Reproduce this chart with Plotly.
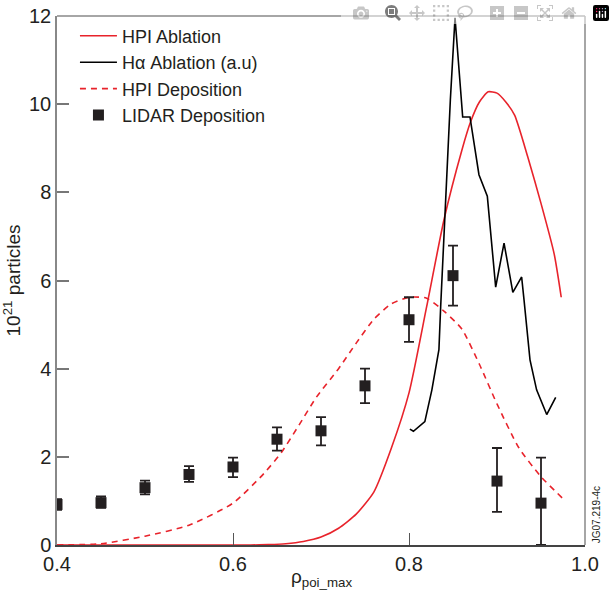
import plotly.graph_objects as go

# HPI Ablation (red solid)
abl_x = [0.4, 0.45, 0.5, 0.55, 0.6, 0.62, 0.64, 0.66, 0.68, 0.70, 0.72, 0.74, 0.76, 0.78, 0.80,
         0.82, 0.84, 0.86, 0.87, 0.88, 0.89, 0.90, 0.91, 0.92, 0.935, 0.95, 0.965, 0.973]
abl_y = [0, 0, 0, 0, 0, 0, 0.01, 0.03, 0.08, 0.18, 0.38, 0.7, 1.2, 2.2, 3.45,
         5.4, 7.4, 8.95, 9.6, 10.05, 10.28, 10.25, 10.05, 9.75, 8.8, 7.75, 6.6, 5.62]

# H-alpha Ablation (a.u) (black)
ha_x = [0.801, 0.805, 0.818, 0.826, 0.834, 0.836, 0.847, 0.8523, 0.861, 0.8693, 0.8795, 0.889,
        0.8985, 0.908, 0.918, 0.928, 0.9307, 0.9375, 0.945, 0.9565, 0.9667]
ha_y = [2.63, 2.58, 2.80, 3.52, 4.43, 5.41, 10.1, 11.96, 9.71, 9.71, 8.40, 7.91,
        5.85, 6.85, 5.73, 6.08, 5.56, 4.20, 3.52, 2.96, 3.35]

# HPI Deposition (red dashed)
dep_x = [0.4, 0.45, 0.5, 0.55, 0.6, 0.635, 0.655, 0.675, 0.695, 0.72, 0.74, 0.76, 0.78, 0.8,
         0.82, 0.84, 0.86, 0.88, 0.9, 0.925, 0.95, 0.975]
dep_y = [0, 0.03, 0.2, 0.45, 0.95, 1.62, 2.1, 2.72, 3.36, 4.0, 4.58, 5.12, 5.47, 5.62,
         5.6, 5.3, 4.9, 4.1, 3.2, 2.2, 1.55, 1.05]

# LIDAR Deposition (squares with error bars)
lid_x = [0.4, 0.45, 0.5, 0.55, 0.6, 0.65, 0.7, 0.75, 0.8, 0.85, 0.9, 0.95]
lid_y = [0.92, 0.96, 1.30, 1.60, 1.77, 2.40, 2.59, 3.61, 5.11, 6.11, 1.45, 0.95]
lid_err_plus = [0.12, 0.14, 0.16, 0.19, 0.21, 0.27, 0.31, 0.39, 0.51, 0.68, 0.75, 1.03]
lid_err_minus = [0.12, 0.12, 0.15, 0.17, 0.23, 0.26, 0.33, 0.39, 0.50, 0.68, 0.70, 0.95]

RED = "#e8232b"
FONT = "Liberation Sans, Arial, sans-serif"

fig = go.Figure()
fig.add_trace(go.Scatter(x=abl_x, y=abl_y, mode="lines", name="HPI Ablation",
                         line=dict(color=RED, width=1.6, shape="spline", smoothing=0.6)))
fig.add_trace(go.Scatter(x=ha_x, y=ha_y, mode="lines", name="H\u03b1 Ablation (a.u)",
                         line=dict(color="black", width=1.6)))
fig.add_trace(go.Scatter(x=dep_x, y=dep_y, mode="lines", name="HPI Deposition",
                         line=dict(color=RED, width=1.6, dash="6px,5px", shape="spline", smoothing=0.6)))
fig.add_trace(go.Scatter(x=lid_x, y=lid_y, mode="markers", name="LIDAR Deposition",
                         marker=dict(symbol="square", size=11, color="#231f20"),
                         error_y=dict(type="data", symmetric=False, array=lid_err_plus,
                                      arrayminus=lid_err_minus, color="#231f20",
                                      thickness=1.8, width=5)))

fig.update_layout(
    width=615, height=592,
    margin=dict(l=57, r=30, t=16, b=47, autoexpand=False),
    paper_bgcolor="white", plot_bgcolor="white",
    font=dict(family=FONT, size=20, color="#231f20"),
    showlegend=True,
    legend=dict(x=0.034, y=0.997, xanchor="left", yanchor="top",
                bgcolor="rgba(0,0,0,0)", font=dict(size=18),
                tracegroupgap=0, itemwidth=37),
    xaxis=dict(range=[0.4, 1.0], dtick=0.2, tickformat=".1f",
               ticks="inside", ticklen=12, tickcolor="#555", tickwidth=1,
               showgrid=False, zeroline=False, ticklabeloverflow="allow",
               showline=True, linecolor="#444", linewidth=1.5, mirror=False),
    yaxis=dict(range=[0, 12], dtick=2,
               ticks="inside", ticklen=12, tickcolor="#777", tickwidth=1.5,
               showgrid=False, zeroline=False, ticklabeloverflow="allow",
               showline=True, linecolor="#888", linewidth=1.5, mirror=False,
               title=dict(text="10<sup>21</sup> particles", font=dict(size=19), standoff=4)),
    shapes=[
        dict(type="line", xref="paper", yref="paper", x0=0, x1=1, y0=1, y1=1,
             line=dict(color="#888", width=1.5), layer="above"),
        dict(type="line", xref="paper", yref="paper", x0=1, x1=1, y0=0, y1=1,
             line=dict(color="#888", width=1.5), layer="above"),
    ],
    annotations=[
        dict(text="\u03c1<sub>poi_max</sub>", xref="paper", yref="paper", x=0.5, y=-0.062,
             xanchor="center", yanchor="middle", showarrow=False,
             font=dict(size=19, color="#231f20")),
        dict(text="JG07.219-4c", xref="paper", yref="paper", x=1.008, y=0.0,
             xanchor="left", yanchor="bottom", textangle=-90, showarrow=False,
             font=dict(size=10, color="#231f20")),
    ],
)

fig.write_html("out.html",
               post_script="document.body.style.margin='0px';document.body.style.padding='0px';")
